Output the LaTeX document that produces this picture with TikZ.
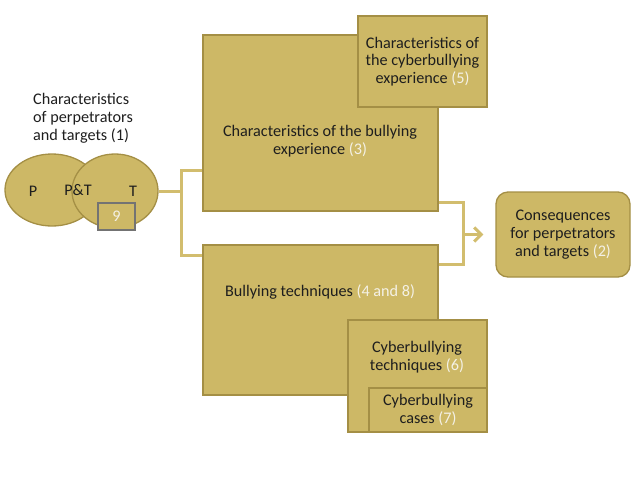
\documentclass[tikz,border=0pt]{standalone}
\usepackage{fontspec}
\setmainfont{Carlito}
\definecolor{Gold}{HTML}{CDB866}
\definecolor{GoldEdge}{HTML}{A48F45}
\definecolor{GoldLine}{HTML}{D2BD6E}
\definecolor{Num}{HTML}{F4F1E6}
\definecolor{Ink}{HTML}{1E1E1E}
\usetikzlibrary{positioning,arrows.meta,calc,shapes.geometric}

\begin{document}
\begin{tikzpicture}[
  x=1pt, y=-1pt, font=\fontsize{16.2}{17.8}\selectfont, text=Ink,
  blk/.style={draw=GoldEdge, line width=1.3pt, fill=Gold, inner sep=0pt},
  ov/.style={blk, ellipse, inner sep=0pt},
  txt/.style={align=center, inner sep=0pt},
  link/.style={draw=GoldLine, line width=3pt},
  num/.style={text=Num}]
\useasboundingbox (0,0) rectangle (640,480);

% ---- perpetrators and targets (Venn) ----
\node[ov, minimum width=94, minimum height=72] (perp) at (52,190) {};
\node[ov, minimum width=86, minimum height=74] (tgt) at (115,191) {};
\node[txt] (pl) at (33,191) {P};
\node[txt] (ptl) at (78,190) {P\&T};
\node[txt] (tl) at (133,191) {T};
\node[blk, draw=black!55, minimum width=37, minimum height=27] (nine) at (116.5,216.5) {\textcolor{Num}{9}};
\node[txt, align=left, anchor=north west] (pttitle) at (33,93)
  {Characteristics\\of perpetrators\\and targets (1)};

% ---- bullying experience ----
\node[blk, minimum width=235, minimum height=176] (exp) at (320.5,123) {};
\node[txt] (expl) at (320,141)
  {Characteristics of the bullying\\experience \textcolor{Num}{(3)}};
\node[blk, minimum width=129, minimum height=91, align=center] (cexp) at (422.5,61.5)
  {Characteristics of\\the cyberbullying\\experience \textcolor{Num}{(5)}};

% ---- techniques ----
\node[blk, minimum width=235, minimum height=150] (tech) at (320.5,320) {};
\node[txt] (techl) at (320,292) {Bullying techniques \textcolor{Num}{(4 and 8)}};
\node[blk, minimum width=139, minimum height=112] (ctech) at (417.5,376) {};
\node[txt] (ctechl) at (417,357) {Cyberbullying\\techniques \textcolor{Num}{(6)}};
\node[blk, minimum width=118, minimum height=44, align=center] (cases) at (428,410)
  {Cyberbullying\\cases \textcolor{Num}{(7)}};

% ---- consequences ----
\node[blk, rounded corners=12pt, minimum width=134, minimum height=85, align=center] (cons) at (563,234.5)
  {Consequences\\for perpetrators\\and targets \textcolor{Num}{(2)}};

% ---- connectors ----
\coordinate (ja) at (181,170);
\coordinate (jb) at (181,255);
\coordinate (ra) at (463,202);
\coordinate (rb) at (463,264);
\draw[link] (tgt.east) -- (tgt.east -| ja);
\draw[link] (exp.west |- ja) -- (ja) -- (jb) -- (tech.west |- jb);
\draw[link] (exp.east |- ra) -- (ra) -- (rb) -- (tech.east |- rb);
\draw[link, -{Straight Barb[length=7pt, width=14pt]}, shorten >=12pt] (ra |- cons) -- (cons.west);
\end{tikzpicture}
\end{document}
